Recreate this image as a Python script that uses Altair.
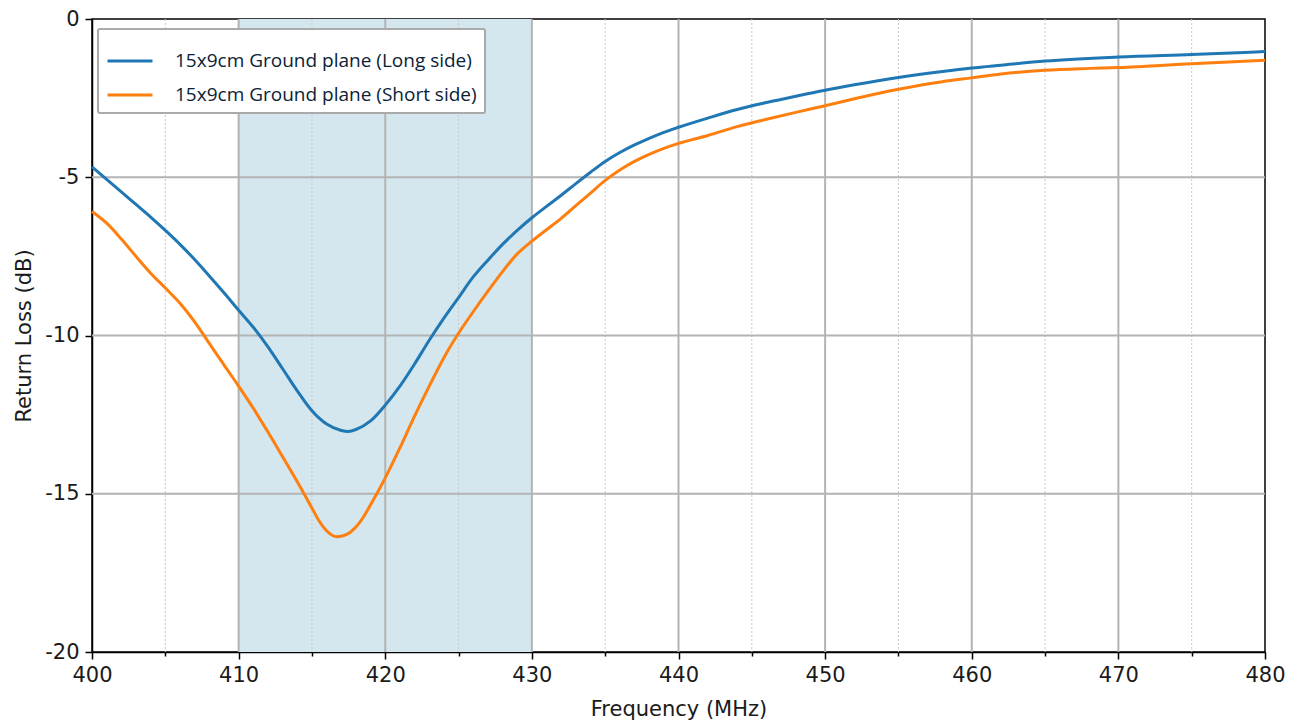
import altair as alt
import pandas as pd

# ---- data ----
freq_long = [400, 401, 402, 403, 404, 405, 406, 407, 408, 409, 410, 411, 412, 413, 414,
             415, 416, 417, 417.5, 418, 419, 420, 421, 422, 423, 424, 425, 426, 427, 428,
             429, 430, 431, 432, 433, 434, 435, 436, 437, 438, 439, 440, 442, 444, 446,
             448, 450, 452, 455, 458, 460, 462, 465, 470, 475, 480]
rl_long = [-4.67, -5.07, -5.46, -5.86, -6.26, -6.68, -7.12, -7.6, -8.12, -8.65, -9.2,
           -9.74, -10.36, -11.05, -11.75, -12.38, -12.8, -13.0, -13.03, -12.97, -12.7,
           -12.2, -11.6, -10.9, -10.15, -9.45, -8.8, -8.15, -7.62, -7.12, -6.68, -6.28,
           -5.92, -5.57, -5.2, -4.84, -4.5, -4.22, -3.98, -3.77, -3.58, -3.42, -3.13,
           -2.86, -2.64, -2.44, -2.25, -2.08, -1.85, -1.66, -1.55, -1.46, -1.33, -1.2,
           -1.12, -1.03]

freq_short = [400, 401, 402, 403, 404, 405, 406, 407, 408, 409, 410, 411, 412, 413, 414,
              415, 415.5, 416, 416.7, 417.3, 418, 418.6, 419, 420, 421, 422, 423, 424,
              425, 426, 427, 428, 429, 430, 431, 432, 433, 434, 435, 436, 437, 438, 439,
              440, 442, 444, 446, 448, 450, 452, 455, 458, 460, 462, 465, 468, 470, 475, 480]
rl_short = [-6.08, -6.45, -6.95, -7.5, -8.03, -8.5, -8.98, -9.57, -10.25, -10.93, -11.6,
            -12.3, -13.05, -13.83, -14.62, -15.45, -15.87, -16.17, -16.36, -16.3, -16.05,
            -15.67, -15.35, -14.5, -13.55, -12.55, -11.6, -10.7, -9.93, -9.25, -8.6, -7.98,
            -7.42, -7.02, -6.66, -6.3, -5.9, -5.5, -5.1, -4.77, -4.5, -4.28, -4.09, -3.93,
            -3.68, -3.4, -3.17, -2.95, -2.74, -2.52, -2.22, -1.98, -1.86, -1.74, -1.62,
            -1.56, -1.53, -1.41, -1.30]

series_names = ["15x9cm Ground plane (Long side)", "15x9cm Ground plane (Short side)"]
series_colors = ["#1f77b4", "#ff7f0e"]

band = {"start": [410], "end": [430]}
major_x = [410, 420, 430, 440, 450, 460, 470]
minor_x = [405, 415, 425, 435, 445, 455, 465, 475]
major_y = [-15, -10, -5]
x_ticks = [400, 405, 410, 415, 420, 425, 430, 435, 440, 445, 450, 455, 460, 465, 470, 475, 480]
y_ticks = [-20, -15, -10, -5, 0]

df = pd.concat([
    pd.DataFrame({"f": freq_long, "rl": rl_long, "series": series_names[0]}),
    pd.DataFrame({"f": freq_short, "rl": rl_short, "series": series_names[1]}),
])

xscale = alt.Scale(domain=[400, 480], nice=False, zero=False)
yscale = alt.Scale(domain=[-20, 0], nice=False, zero=False)

xaxis = alt.Axis(
    values=x_ticks, title="Frequency (MHz)", grid=False, labelFlush=False,
    labelExpr="datum.value % 10 == 0 ? datum.value + '' : ''",
    tickSize=alt.ConditionalAxisNumber(condition={"test": "datum.value % 10 != 0", "value": 4}, value=7),
    labelPadding=5, titlePadding=13,
)
yaxis = alt.Axis(
    values=y_ticks, title="Return Loss (dB)", grid=False, labelFlush=False,
    labelExpr="datum.value + ''", tickSize=7, labelPadding=6, titlePadding=10,
)

X = lambda field: alt.X(f"{field}:Q", scale=xscale, axis=xaxis)
Y = lambda field: alt.Y(f"{field}:Q", scale=yscale, axis=yaxis)

shade = alt.Chart(pd.DataFrame(band)).mark_rect(color="#d4e7ee").encode(
    x=X("start"), x2="end"
)
minor = alt.Chart(pd.DataFrame({"v": minor_x})).mark_rule(
    color="#c8c8c8", strokeWidth=1, strokeDash=[2, 2]
).encode(x=X("v"))
majorx = alt.Chart(pd.DataFrame({"v": major_x})).mark_rule(
    color="#b3b3b3", strokeWidth=2
).encode(x=X("v"))
majory = alt.Chart(pd.DataFrame({"v": major_y})).mark_rule(
    color="#b3b3b3", strokeWidth=2
).encode(y=Y("v"))

lines = alt.Chart(df).mark_line(strokeWidth=3, interpolate="monotone").encode(
    x=X("f"), y=Y("rl"),
    color=alt.Color("series:N", sort=series_names,
                    scale=alt.Scale(domain=series_names, range=series_colors),
                    legend=alt.Legend(
                        title=None, orient="none", legendX=6, legendY=10,
                        symbolType="stroke", symbolSize=2025, symbolStrokeWidth=3,
                        labelFont="Open Sans", labelFontSize=19, labelColor="#0b2236",
                        labelOffset=21, rowPadding=-12, padding=8,
                        strokeColor="#aaaaaa", fillColor="white", cornerRadius=2,
                        labelLimit=600,
                    )),
)

chart = alt.layer(shade, minor, majorx, majory, lines).properties(
    width=1173, height=633,
    padding={"left": 5, "top": 0, "right": 5, "bottom": 2},
).configure_view(
    stroke="black", strokeWidth=1.5
).configure_axis(
    labelFont="DejaVu Sans", labelFontSize=21, labelColor="#1a1a1a",
    titleFont="DejaVu Sans", titleFontSize=21, titleFontWeight="normal", titleColor="#1a1a1a",
    domainColor="black", domainWidth=1.5, tickColor="black", tickWidth=1.5,
).configure_legend(strokeWidth=2)

chart.save("out.html", embed_options={"renderer": "svg", "actions": False})
